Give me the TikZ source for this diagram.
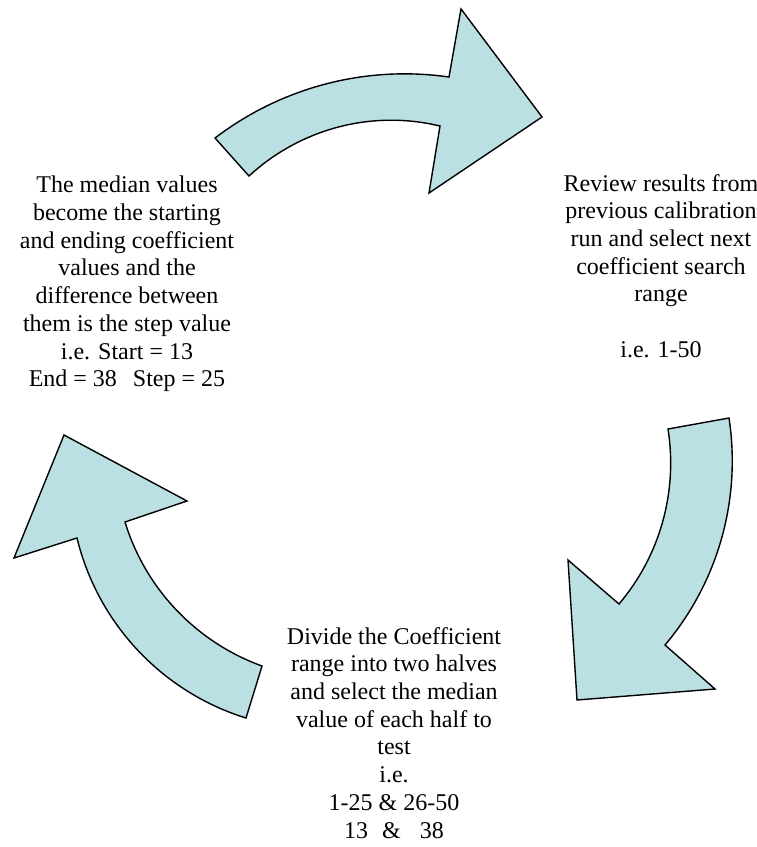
\documentclass[tikz,border=0pt]{standalone}
\usepackage{fontspec}
\setmainfont{Liberation Serif}
\definecolor{arrowfill}{RGB}{187,224,227}
\begin{document}
\begin{tikzpicture}[x=1pt,y=-1pt,
  cyclearrow/.style={draw=black,fill=arrowfill,line width=1.4pt,line join=miter},
  steptext/.style={align=center,inner sep=0pt,anchor=north,
    font=\fontsize{24}{27.7}\selectfont}]
\useasboundingbox (0,0) rectangle (757,847);

% top arrow: left text -> right text
\path[cyclearrow] (215,138)
  .. controls (281.9,87.1) and (365.7,65.1) .. (449,77)
  -- (461,9) -- (542,117) -- (429,193) -- (440,126)
  .. controls (371.8,109.6) and (300.6,128.5) .. (249,176)
  -- cycle;

% right arrow: right text -> bottom text
\path[cyclearrow] (668,429) -- (729,418)
  .. controls (741.4,499.4) and (718.1,582.1) .. (665,645)
  -- (715,689) -- (577,700) -- (568,560) -- (619,604)
  .. controls (660.1,555.6) and (677.9,491.7) .. (668,429)
  -- cycle;

% left arrow: bottom text -> left text
\path[cyclearrow] (262,666)
  .. controls (196.3,642.2) and (145.5,588.9) .. (125,522)
  -- (187,501) -- (64,435) -- (14,558) -- (77,538)
  .. controls (97.8,623.5) and (162.0,691.9) .. (246,718)
  -- cycle;

\node[steptext] (median) at (127,176) {The median values\\become the starting\\and ending coefficient\\values and the\\difference between\\them is the step value\\i.e. Start = 13\\End = 38\hspace{16pt}Step = 25};

\node[steptext] (review) at (661,174) {Review results from\\previous calibration\\run and select next\\coefficient search\\range\\[27.7pt]i.e. 1-50};

\node[steptext] (divide) at (394,627) {Divide the Coefficient\\range into two halves\\and select the median\\value of each half to\\test\\i.e.\\1-25 \& 26-50\\13\hspace{14pt}\&\hspace{19pt}38};
\end{tikzpicture}
\end{document}
